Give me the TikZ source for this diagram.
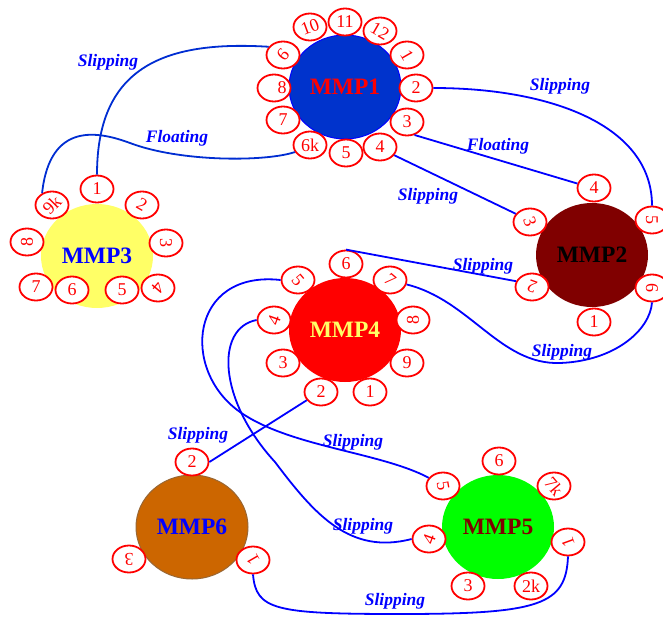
\documentclass[tikz,border=0pt]{standalone}
\usepackage{fontspec}
\setmainfont{Liberation Serif}
\usetikzlibrary{shapes.geometric}
\definecolor{mblue}{RGB}{0,51,204}
\definecolor{mmaroon}{RGB}{128,0,0}
\definecolor{myellow}{RGB}{255,255,102}
\definecolor{mgreen}{RGB}{0,255,0}
\definecolor{morange}{RGB}{204,102,0}
\definecolor{mbrown}{RGB}{153,102,51}
\definecolor{edgeblue}{RGB}{0,0,255}
\definecolor{edgedark}{RGB}{0,45,210}
\tikzset{
 mainc/.style={ellipse, minimum width=112pt, minimum height=104pt, inner sep=0pt, font=\fontsize{23.5}{26}\selectfont\bfseries},
 sat/.style={ellipse, draw=red, line width=1.8pt, fill=white, minimum width=33pt, minimum height=27pt, inner sep=0pt},
 sattxt/.style={inner sep=0pt, text=red, font=\fontsize{18}{22}\selectfont},
 conn/.style={draw=edgeblue, line width=1.8pt},
 elab/.style={text=edgeblue, font=\fontsize{17.5}{20}\selectfont\bfseries\itshape, inner sep=0pt},
}
\newcommand\satnode[5][]{\node[sat] (#2) at (#3) {}; \node[sattxt, rotate=#4, #1] (#2t) at (#2) {#5};}
\begin{document}
\begin{tikzpicture}[x=1pt,y=-1pt]
\useasboundingbox (0,0) rectangle (663,616);
% main circles
\node[mainc, fill=mblue, draw=edgeblue, line width=1pt, text=red] (m1) at (345,87) {MMP1};
\node[mainc, fill=mmaroon, text=black] (m2) at (592,255) {MMP2};
\node[mainc, fill=myellow, text=edgeblue] (m3) at (97,256) {MMP3};
\node[mainc, fill=red, text=myellow] (m4) at (345,330) {MMP4};
\node[mainc, fill=mgreen, text=mmaroon] (m5) at (498,527) {MMP5};
\node[mainc, fill=morange, draw=mbrown, line width=1pt, text=edgeblue] (m6) at (192,527) {MMP6};
% MMP1 satellites
\satnode{m1s10}{310,27}{20}{10}
\satnode{m1s11}{345,22}{0}{11}
\satnode{m1s12}{380,31}{-30}{12}
\satnode{m1s1}{407,55}{-60}{1}
\satnode{m1s2}{416,88}{0}{2}
\satnode{m1s3}{407,122}{0}{3}
\satnode{m1s4}{380,147}{0}{4}
\satnode{m1s5}{346,153}{0}{5}
\satnode{m1s6k}{310,145}{0}{6k}
\satnode{m1s7}{283,120}{0}{7}
\satnode[xshift=8pt]{m1s8}{274,88}{0}{8}
\satnode{m1s9}{283,55}{-130}{9}
% MMP2 satellites
\satnode{m2s4}{594,188}{0}{4}
\satnode{m2s3}{530,222}{-70}{3}
\satnode{m2s2}{532,287}{160}{2}
\satnode{m2s1}{594,322}{0}{1}
\satnode{m2s6}{652,288}{-90}{6}
\satnode{m2s5}{652,220}{-90}{5}
% MMP3 satellites
\satnode{m3s1}{97,189}{0}{1}
\satnode{m3s2}{142,205}{-30}{2}
\satnode{m3s3}{166,243}{-90}{3}
\satnode{m3s4}{158,288}{-130}{4}
\satnode{m3s5}{122,290}{0}{5}
\satnode{m3s6}{72,290}{0}{6}
\satnode{m3s7}{36,287}{0}{7}
\satnode{m3s8}{27,242}{90}{8}
\satnode{m3s9k}{52,205}{45}{9k}
% MMP4 satellites
\satnode{m4s6}{346,264}{0}{6}
\satnode{m4s7}{390,280}{-40}{7}
\satnode{m4s8}{413,320}{90}{8}
\satnode{m4s9}{407,363}{0}{9}
\satnode{m4s1}{370,392}{0}{1}
\satnode{m4s2}{321,392}{0}{2}
\satnode{m4s3}{283,363}{0}{3}
\satnode{m4s4}{274,320}{70}{4}
\satnode{m4s5}{298,280}{-50}{5}
% MMP5 satellites
\satnode{m5s6}{499,461}{0}{6}
\satnode{m5s7k}{554,486}{-50}{7k}
\satnode{m5s1}{568,542}{110}{1}
\satnode{m5s2k}{531,586}{0}{2k}
\satnode{m5s3}{468,586}{0}{3}
\satnode{m5s4}{429,539}{70}{4}
\satnode{m5s5}{443,486}{-80}{5}
% MMP6 satellites
\satnode{m6s2}{192,462}{0}{2}
\satnode{m6s3}{129,559}{180}{3}
\satnode{m6s1}{253,560}{120}{1}
% connectors
\draw[conn, draw=edgedark] (m1s9.150) .. controls (160,40) and (97,70) .. (m3s1.north);
\draw[conn, draw=edgedark] (m1s6k.205) .. controls (265,162) and (180,162) .. (130,143) .. controls (100,132) and (50,120) .. (m3s9k.130);
\draw[conn] (m1s2.east) .. controls (550,88) and (652,125) .. (m2s5.north);
\draw[conn] (m1s3.-60) -- (m2s4.165);
\draw[conn] (m1s4.-30) -- (m2s3.150);
\draw[conn] (m4s6.north) -- (m2s2.160);
\draw[conn] (m4s7.-15) .. controls (470,300) and (500,365) .. (560,363) .. controls (615,361) and (650,330) .. (m2s6.south);
\draw[conn] (m4s5.west) .. controls (190,270) and (180,370) .. (240,412) .. controls (290,447) and (380,452) .. (m5s5.150);
\draw[conn] (m4s4.west) .. controls (215,328) and (218,400) .. (275,462) .. controls (315,515) and (350,555) .. (m5s4.west);
\draw[conn] (m4s2.210) -- (m6s2.east);
\draw[conn] (m6s1.south) .. controls (256,610) and (275,614) .. (400,614) .. controls (540,614) and (566,605) .. (m5s1.south);
% edge labels
\node[elab] (l1) at (108,62) {Slipping};
\node[elab] (l2) at (177,138) {Floating};
\node[elab] (l3) at (560,86) {Slipping};
\node[elab] (l4) at (498,146) {Floating};
\node[elab] (l5) at (428,196) {Slipping};
\node[elab] (l6) at (483,266) {Slipping};
\node[elab] (l7) at (562,352) {Slipping};
\node[elab] (l8) at (353,442) {Slipping};
\node[elab] (l9) at (363,526) {Slipping};
\node[elab] (l10) at (198,435) {Slipping};
\node[elab] (l11) at (395,601) {Slipping};
\end{tikzpicture}
\end{document}
